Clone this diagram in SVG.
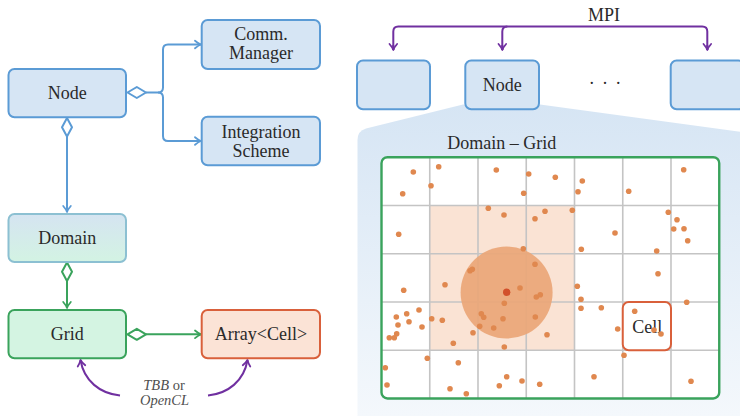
<svg xmlns="http://www.w3.org/2000/svg" width="740" height="416" viewBox="0 0 740 416" font-family="Liberation Serif, DejaVu Serif, Times New Roman, serif">
  <defs>
    <style>
      .lbl { font-size: 18px; fill: #2a2a2a; text-anchor: middle; }
      .small { font-size: 14.5px; fill: #505050; text-anchor: middle; }
      .blue { fill: #d6e5f4; stroke: #5b9bd5; stroke-width: 2; }
      .gridbox { fill: #d4f4e2; stroke: #3aa35c; stroke-width: 2; }
      .orange { fill: #fbe3d6; stroke: #d9603b; stroke-width: 2; }
      .wire { fill: none; stroke-width: 2; stroke-linejoin: round; }
      .w-blue { stroke: #5b9bd5; }
      .w-green { stroke: #3aa35c; }
      .w-purple { stroke: #7030a0; }
      .diamond { stroke-width: 2; fill: #ffffff; stroke-linejoin: round; }
      .gl { stroke: #c4c4c4; stroke-width: 1.6; }
      .dot { fill: #e0884f; }
    </style>
    <marker id="arr-blue" markerUnits="userSpaceOnUse" viewBox="-8 -6 10 12" refX="0" refY="0" markerWidth="10" markerHeight="12" orient="auto" overflow="visible">
      <path d="M-6,-3.8 Q-2.5,-0.8 0,0 Q-2.5,0.8 -6,3.8" fill="none" stroke="#5b9bd5" stroke-width="1.8" stroke-linecap="round" stroke-linejoin="round"/>
    </marker>
    <marker id="arr-green" markerUnits="userSpaceOnUse" viewBox="-8 -6 10 12" refX="0" refY="0" markerWidth="10" markerHeight="12" orient="auto" overflow="visible">
      <path d="M-6,-3.8 Q-2.5,-0.8 0,0 Q-2.5,0.8 -6,3.8" fill="none" stroke="#3aa35c" stroke-width="1.8" stroke-linecap="round" stroke-linejoin="round"/>
    </marker>
    <marker id="arr-purple" markerUnits="userSpaceOnUse" viewBox="-8 -6 10 12" refX="0" refY="0" markerWidth="10" markerHeight="12" orient="auto" overflow="visible">
      <path d="M-6,-3.8 Q-2.5,-0.8 0,0 Q-2.5,0.8 -6,3.8" fill="none" stroke="#7030a0" stroke-width="1.8" stroke-linecap="round" stroke-linejoin="round"/>
    </marker>
    <linearGradient id="domainFill" x1="0" y1="0" x2="0" y2="1">
      <stop offset="0" stop-color="#d5e4f1"/>
      <stop offset="1" stop-color="#d3f3e3"/>
    </linearGradient>
    <linearGradient id="panelFill" gradientUnits="userSpaceOnUse" x1="0" y1="104" x2="0" y2="416">
      <stop offset="0" stop-color="#d6e5f4"/>
      <stop offset="1" stop-color="#f4f8fc"/>
    </linearGradient>
  </defs>

  <rect width="740" height="416" fill="#ffffff"/>

  <!-- class diagram: left half -->
  <g id="connectors-left">
    <!-- Node aggregates Comm. Manager and Integration Scheme -->
    <path class="wire w-blue" d="M146,92.5 H158 Q163,92.5 163,87.5 V49.5 Q163,44.5 168,44.5 H201" marker-end="url(#arr-blue)"/>
    <path class="wire w-blue" d="M158,92.5 Q163,92.5 163,97.5 V136 Q163,141 168,141 H201" marker-end="url(#arr-blue)"/>
    <path class="diamond" stroke="#5b9bd5" d="M127.5,92.5 L136.8,87 L146,92.5 L136.8,98 Z"/>
    <!-- Node aggregates Domain -->
    <path class="wire w-blue" d="M67,136.5 V212" marker-end="url(#arr-blue)"/>
    <path class="diamond" stroke="#5b9bd5" d="M67,118 L72,127.3 L67,136.5 L62,127.3 Z"/>
    <!-- Domain aggregates Grid -->
    <path class="wire w-green" d="M67,281 V308" marker-end="url(#arr-green)"/>
    <path class="diamond" stroke="#3aa35c" d="M67,262.5 L72,271.8 L67,281 L62,271.8 Z"/>
    <!-- Grid aggregates Array<Cell> -->
    <path class="wire w-green" d="M146,334.3 H201" marker-end="url(#arr-green)"/>
    <path class="diamond" stroke="#3aa35c" d="M127.5,334.3 L136.8,328.8 L146,334.3 L136.8,339.8 Z"/>
    <!-- parallel back ends -->
    <path class="wire w-purple" d="M120,395.5 C100,393.5 84,381 80.5,360" marker-end="url(#arr-purple)"/>
    <path class="wire w-purple" d="M208,395.5 C228,393.5 244,381 247.5,360" marker-end="url(#arr-purple)"/>
  </g>

  <g id="node-main">
    <rect class="blue" x="8.5" y="69" width="117.5" height="48.3" rx="6"/>
    <text class="lbl" x="67.2" y="99">Node</text>
  </g>
  <g id="comm-manager">
    <rect class="blue" x="201.7" y="20" width="118.3" height="49" rx="6"/>
    <text class="lbl" x="261" y="40">Comm.</text>
    <text class="lbl" x="261" y="58.5">Manager</text>
  </g>
  <g id="integration-scheme">
    <rect class="blue" x="201.7" y="116.7" width="118.3" height="48.6" rx="6"/>
    <text class="lbl" x="261" y="137.5">Integration</text>
    <text class="lbl" x="261" y="156.7">Scheme</text>
  </g>
  <g id="domain">
    <rect x="8.5" y="214" width="117.5" height="48" rx="6" fill="url(#domainFill)" stroke="#8cc0d2" stroke-width="2"/>
    <text class="lbl" x="67.2" y="244.3">Domain</text>
  </g>
  <g id="grid">
    <rect class="gridbox" x="8.5" y="310" width="117.5" height="48.3" rx="6"/>
    <text class="lbl" x="67.2" y="339.5">Grid</text>
  </g>
  <g id="array-cell">
    <rect class="orange" x="201.7" y="310" width="118.3" height="48.3" rx="6"/>
    <text class="lbl" x="261" y="339.5">Array&lt;Cell&gt;</text>
  </g>
  <g id="backend-label">
    <text class="small" x="164" y="390"><tspan font-style="italic">TBB</tspan> or</text>
    <text class="small" x="164.5" y="405" font-style="italic">OpenCL</text>
  </g>

  <!-- cluster view: right half -->
  <g id="domain-panel">
    <path d="M463,104.5 L540,104.5 L760,134.5 V416 H357.5 V140 Q357.5,131 366,128.5 Z" fill="url(#panelFill)"/>
    <text class="lbl" x="501.7" y="149">Domain – Grid</text>
  </g>

  <g id="connectors-mpi">
    <path class="wire w-purple" d="M393.3,50 V31.5 Q393.3,26.5 398.3,26.5 H702.3 Q707.3,26.5 707.3,31.5 V50"/>
    <path class="wire w-purple" d="M502.3,50 V31.5 Q502.3,26.5 507.3,26.5"/>
    <path class="wire w-purple" d="M393.3,45 V50" marker-end="url(#arr-purple)"/>
    <path class="wire w-purple" d="M502.3,45 V50" marker-end="url(#arr-purple)"/>
    <path class="wire w-purple" d="M707.3,45 V50" marker-end="url(#arr-purple)"/>
    <text class="lbl" x="604" y="21">MPI</text>
  </g>

  <g id="cluster-node-1">
    <rect class="blue" x="357" y="60.5" width="73" height="48.8" rx="6"/>
  </g>
  <g id="cluster-node-2">
    <rect class="blue" x="465.3" y="60.5" width="73.7" height="48.8" rx="6"/>
    <text class="lbl" x="502.2" y="90.7">Node</text>
  </g>
  <g id="cluster-ellipsis">
    <text class="lbl" x="591.7 605 618.3" y="89">···</text>
  </g>
  <g id="cluster-node-n">
    <rect class="blue" x="670.7" y="60.5" width="73.7" height="48.8" rx="6"/>
  </g>

  <g id="domain-grid">
    <rect x="381.5" y="157.2" width="337.75" height="241.25" rx="6" fill="#ffffff"/>
    <!-- neighbourhood of the central particle -->
    <rect x="429.75" y="205.45" width="144.75" height="144.75" fill="#fae3d4"/>
    <g id="grid-lines">
      <line class="gl" x1="429.75" y1="157.2" x2="429.75" y2="398.45"/>
      <line class="gl" x1="478" y1="157.2" x2="478" y2="398.45"/>
      <line class="gl" x1="526.25" y1="157.2" x2="526.25" y2="398.45"/>
      <line class="gl" x1="574.5" y1="157.2" x2="574.5" y2="398.45"/>
      <line class="gl" x1="622.75" y1="157.2" x2="622.75" y2="398.45"/>
      <line class="gl" x1="671" y1="157.2" x2="671" y2="398.45"/>
      <line class="gl" x1="381.5" y1="205.45" x2="719.25" y2="205.45"/>
      <line class="gl" x1="381.5" y1="253.7" x2="719.25" y2="253.7"/>
      <line class="gl" x1="381.5" y1="301.95" x2="719.25" y2="301.95"/>
      <line class="gl" x1="381.5" y1="350.2" x2="719.25" y2="350.2"/>
    </g>
    <!-- cut-off radius -->
    <circle cx="506.6" cy="292.6" r="46" fill="#eaa677" fill-opacity="0.92"/>
    <rect x="381.5" y="157.2" width="337.75" height="241.25" rx="6" fill="none" stroke="#3aa35c" stroke-width="2.4"/>
    <g id="cell">
      <rect x="622.75" y="301.95" width="48.25" height="48.25" rx="6" fill="#ffffff" stroke="#d9603b" stroke-width="2"/>
      <text class="lbl" x="647.3" y="332.7">Cell</text>
    </g>
    <g id="particles">
      <circle class="dot" cx="413.3" cy="172" r="2.8"/>
      <circle class="dot" cx="438.7" cy="166.7" r="2.8"/>
      <circle class="dot" cx="431" cy="185.7" r="2.8"/>
      <circle class="dot" cx="402.7" cy="193.7" r="2.8"/>
      <circle class="dot" cx="496.3" cy="170" r="2.8"/>
      <circle class="dot" cx="528.7" cy="174" r="2.8"/>
      <circle class="dot" cx="555.3" cy="177.3" r="2.8"/>
      <circle class="dot" cx="523.7" cy="193.3" r="2.8"/>
      <circle class="dot" cx="488.3" cy="208.3" r="2.8"/>
      <circle class="dot" cx="504" cy="215" r="2.8"/>
      <circle class="dot" cx="545" cy="211.3" r="2.8"/>
      <circle class="dot" cx="535" cy="218.7" r="2.8"/>
      <circle class="dot" cx="398.7" cy="234.3" r="2.8"/>
      <circle class="dot" cx="523.3" cy="248.7" r="2.8"/>
      <circle class="dot" cx="535" cy="264.3" r="2.8"/>
      <circle class="dot" cx="470" cy="270.7" r="2.8"/>
      <circle class="dot" cx="472.3" cy="269.3" r="2.8"/>
      <circle class="dot" cx="582.3" cy="181" r="2.8"/>
      <circle class="dot" cx="578" cy="191.7" r="2.8"/>
      <circle class="dot" cx="628.7" cy="191.3" r="2.8"/>
      <circle class="dot" cx="683.7" cy="169.7" r="2.8"/>
      <circle class="dot" cx="572.3" cy="210.3" r="2.8"/>
      <circle class="dot" cx="668.3" cy="212.3" r="2.8"/>
      <circle class="dot" cx="677" cy="219.7" r="2.8"/>
      <circle class="dot" cx="673.7" cy="229" r="2.8"/>
      <circle class="dot" cx="684" cy="228.7" r="2.8"/>
      <circle class="dot" cx="687.7" cy="240.7" r="2.8"/>
      <circle class="dot" cx="615" cy="233" r="2.8"/>
      <circle class="dot" cx="581.3" cy="249.3" r="2.8"/>
      <circle class="dot" cx="656.7" cy="251" r="2.8"/>
      <circle class="dot" cx="658" cy="273.7" r="2.8"/>
      <circle class="dot" cx="445" cy="284.7" r="2.8"/>
      <circle class="dot" cx="403.7" cy="290.3" r="2.8"/>
      <circle class="dot" cx="520" cy="288" r="2.8"/>
      <circle class="dot" cx="536.3" cy="297" r="2.8"/>
      <circle class="dot" cx="540.3" cy="294.7" r="2.8"/>
      <circle class="dot" cx="504.3" cy="303.3" r="2.8"/>
      <circle class="dot" cx="419" cy="310" r="2.8"/>
      <circle class="dot" cx="406.7" cy="313.7" r="2.8"/>
      <circle class="dot" cx="396.3" cy="317" r="2.8"/>
      <circle class="dot" cx="409" cy="321.7" r="2.8"/>
      <circle class="dot" cx="398" cy="325" r="2.8"/>
      <circle class="dot" cx="422" cy="327" r="2.8"/>
      <circle class="dot" cx="431.7" cy="318.7" r="2.8"/>
      <circle class="dot" cx="442.3" cy="320.3" r="2.8"/>
      <circle class="dot" cx="481.3" cy="313.7" r="2.8"/>
      <circle class="dot" cx="483.7" cy="317.3" r="2.8"/>
      <circle class="dot" cx="503" cy="318.7" r="2.8"/>
      <circle class="dot" cx="535.3" cy="317" r="2.8"/>
      <circle class="dot" cx="479.7" cy="326.3" r="2.8"/>
      <circle class="dot" cx="493.7" cy="328" r="2.8"/>
      <circle class="dot" cx="473" cy="332.7" r="2.8"/>
      <circle class="dot" cx="547" cy="334.7" r="2.8"/>
      <circle class="dot" cx="396.7" cy="333.7" r="2.8"/>
      <circle class="dot" cx="394.3" cy="337.7" r="2.8"/>
      <circle class="dot" cx="389.3" cy="337.7" r="2.8"/>
      <circle class="dot" cx="453.3" cy="343.3" r="2.8"/>
      <circle class="dot" cx="504.3" cy="347" r="2.8"/>
      <circle class="dot" cx="427.3" cy="358.3" r="2.8"/>
      <circle class="dot" cx="458.3" cy="362.7" r="2.8"/>
      <circle class="dot" cx="385.3" cy="367.7" r="2.8"/>
      <circle class="dot" cx="506.7" cy="376.7" r="2.8"/>
      <circle class="dot" cx="522" cy="381" r="2.8"/>
      <circle class="dot" cx="499.3" cy="385.7" r="2.8"/>
      <circle class="dot" cx="539.7" cy="384.3" r="2.8"/>
      <circle class="dot" cx="387" cy="385" r="2.8"/>
      <circle class="dot" cx="450" cy="388.7" r="2.8"/>
      <circle class="dot" cx="466.3" cy="393.7" r="2.8"/>
      <circle class="dot" cx="577.3" cy="286.3" r="2.8"/>
      <circle class="dot" cx="581" cy="299.3" r="2.8"/>
      <circle class="dot" cx="581" cy="308.3" r="2.8"/>
      <circle class="dot" cx="601.3" cy="307.7" r="2.8"/>
      <circle class="dot" cx="686.7" cy="302.3" r="2.8"/>
      <circle class="dot" cx="634.7" cy="311.3" r="2.8"/>
      <circle class="dot" cx="617.7" cy="329" r="2.8"/>
      <circle class="dot" cx="654" cy="330" r="2.8"/>
      <circle class="dot" cx="661" cy="334" r="2.8"/>
      <circle class="dot" cx="624" cy="355.3" r="2.8"/>
      <circle class="dot" cx="594" cy="376.7" r="2.8"/>
      <circle class="dot" cx="691" cy="381.3" r="2.8"/>
      <!-- central particle -->
      <circle cx="506.7" cy="292.3" r="3.7" fill="#d2502b"/>
    </g>
  </g>
</svg>
